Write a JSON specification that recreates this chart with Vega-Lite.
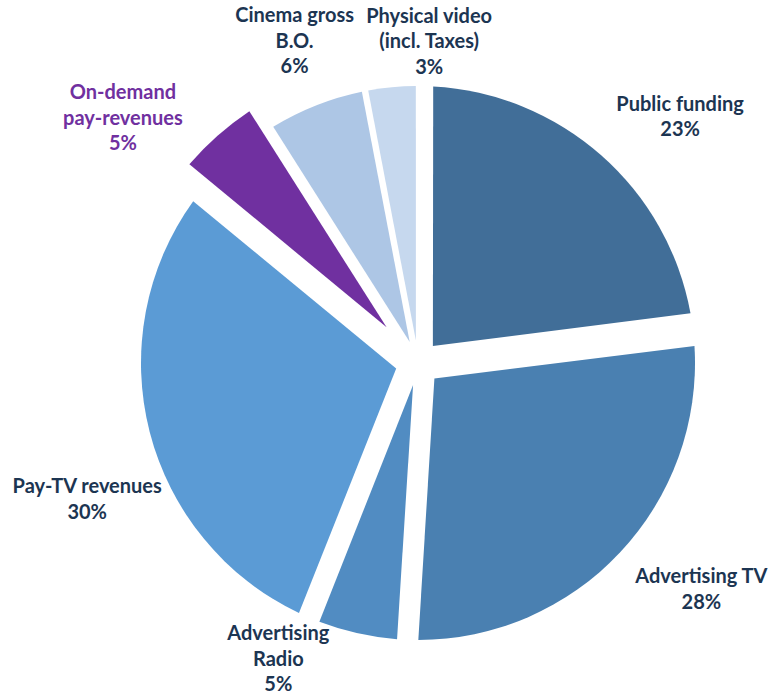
{
  "$schema": "https://vega.github.io/schema/vega-lite/v6.json",
  "width": 700,
  "height": 650,
  "autosize": "none",
  "padding": {"left": 68, "top": 38, "right": 14, "bottom": 11},
  "background": "white",
  "config": {"view": {"stroke": null}},
  "data": {
    "values": [
      {"rank": 1, "category": "Public funding", "label": "Public funding", "value": 23},
      {"rank": 2, "category": "Advertising TV", "label": "Advertising TV", "value": 28},
      {"rank": 3, "category": "Advertising Radio", "label": "Advertising\nRadio", "value": 5},
      {"rank": 4, "category": "Pay-TV revenues", "label": "Pay-TV revenues", "value": 30},
      {"rank": 5, "category": "On-demand pay-revenues", "label": "On-demand\npay-revenues", "value": 5},
      {"rank": 6, "category": "Cinema gross B.O.", "label": "Cinema gross\nB.O.", "value": 6},
      {"rank": 7, "category": "Physical video (incl. Taxes)", "label": "Physical video\n(incl. Taxes)", "value": 3}
    ]
  },
  "transform": [
    {"calculate": "datum.label + '\\n' + datum.value + '%'", "as": "txt"}
  ],
  "layer": [
    {
      "mark": {
        "type": "arc",
        "radius": {"expr": "datum.category == 'On-demand pay-revenues' ? 303 : 277"},
        "radius2": {"expr": "datum.category == 'On-demand pay-revenues' ? 47.5 : 22.5"},
        "padAngle": {"expr": "2 * asin((datum.category == 'On-demand pay-revenues' ? 48 : 23) * sin(PI * datum.value / 100) / sqrt(pow(datum.category == 'On-demand pay-revenues' ? 303 : 277, 2) + pow(datum.category == 'On-demand pay-revenues' ? 47.5 : 22.5, 2)))"}
      },
      "encoding": {
        "theta": {"field": "value", "type": "quantitative", "stack": true},
        "order": {"field": "rank", "type": "quantitative"},
        "color": {
          "field": "category",
          "type": "nominal",
          "scale": {
            "domain": ["Public funding", "Advertising TV", "Advertising Radio", "Pay-TV revenues", "On-demand pay-revenues", "Cinema gross B.O.", "Physical video (incl. Taxes)"],
            "range": ["#416e98", "#4a80b1", "#518cc2", "#5b9bd5", "#7030a0", "#adc6e5", "#c6d8ee"]
          },
          "legend": null
        }
      }
    },
    {
      "mark": {
        "type": "text",
        "font": "Lato",
        "fontWeight": "bold",
        "fontSize": 20,
        "lineHeight": 25.5,
        "lineBreak": "\n",
        "align": "center",
        "baseline": "middle",
        "dy": {"expr": "indexof(datum.label, '\\n') >= 0 ? -25.5 : -12.75"},
        "radius": {"expr": "[359, 363, 328, 358, 383, 344, 321][datum.rank - 1]"},
        "thetaOffset": {"expr": "[0.096, -0.079, 0.220, -0.141, -0.157, 0.010, 0.129][datum.rank - 1]"}
      },
      "encoding": {
        "theta": {"field": "value", "type": "quantitative", "stack": true},
        "order": {"field": "rank", "type": "quantitative"},
        "detail": {"field": "category", "type": "nominal"},
        "text": {"field": "txt", "type": "nominal"},
        "color": {
          "condition": {"test": "datum.category == 'On-demand pay-revenues'", "value": "#7030a0"},
          "value": "#1c3552"
        }
      }
    }
  ]
}
